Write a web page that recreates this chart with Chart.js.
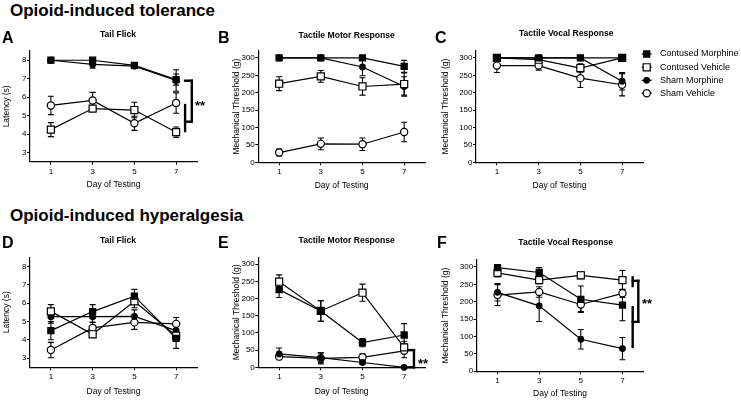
<!DOCTYPE html>
<html>
<head>
<meta charset="utf-8">
<script src="https://cdn.jsdelivr.net/npm/chart.js@4.4.1/dist/chart.umd.min.js"></script>
<style>
  body { margin:0; width:741px; height:400px; background:#fff; position:relative; overflow:hidden;
         font-family:'Liberation Sans', Arial, sans-serif; }
  canvas { position:absolute; }
  .t { position:absolute; white-space:nowrap; line-height:1; font-weight:bold; color:#000; }
</style>
</head>
<body>
<canvas id="cA"></canvas><canvas id="cB"></canvas><canvas id="cC"></canvas>
<canvas id="cD"></canvas><canvas id="cE"></canvas><canvas id="cF"></canvas>
<script>
// --- datos
const days = [1, 3, 5, 7];
const dayTicks = [1, 3, 5, 7];
const latencyTicks = [3, 4, 5, 6, 7, 8];
const thresholdTicks = [0, 50, 100, 150, 200, 250, 300];
const seriesNames = ['Contused Morphine', 'Contused Vehicle', 'Sham Morphine', 'Sham Vehicle'];

// A: tolerance, tail flick (s)
const aCM = [8.0, 8.0, 7.72, 6.95],  aCMe = [0.05, 0.08, 0.12, 0.3];
const aCV = [4.24, 5.38, 5.3, 4.1],  aCVe = [0.38, 0.15, 0.42, 0.28];
const aSM = [8.0, 7.77, 7.68, 6.9],  aSMe = [0.04, 0.2, 0.1, 0.58];
const aSV = [5.55, 5.82, 4.58, 5.68], aSVe = [0.5, 0.44, 0.38, 0.55];
// B: tolerance, tactile motor (g)
const bCM = [300, 300, 300, 276], bCMe = [0, 0, 0, 17];
const bCV = [226, 247, 218, 225], bCVe = [20, 17, 25, 32];
const bSM = [300, 300, 274, 218], bSMe = [0, 0, 25, 28];
const bSV = [28, 53, 52, 87],     bSVe = [10, 17, 18, 28];
// C: tolerance, tactile vocal (g)
const cCM = [300, 300, 300, 300], cCMe = [0, 0, 0, 0];
const cCV = [300, 295, 271, 300], cCVe = [0, 5, 12, 0];
const cSM = [300, 300, 300, 233], cSMe = [0, 0, 0, 25];
const cSV = [278, 278, 242, 223], cSVe = [20, 13, 27, 32];
// D: hyperalgesia, tail flick (s)
const dCM = [4.5, 5.54, 6.38, 4.08], dCMe = [0.5, 0.38, 0.37, 0.55];
const dCV = [5.55, 4.3, 6.1, 4.22],  dCVe = [0.37, 0.15, 0.35, 0.2];
const dSM = [5.26, 5.26, 5.28, 4.5], dSMe = [0.35, 0.3, 0.35, 0.3];
const dSV = [3.44, 4.65, 4.95, 4.87], dSVe = [0.42, 0.3, 0.38, 0.35];
// E: hyperalgesia, tactile motor (g)
const eCM = [226, 164, 72, 94], eCMe = [23, 30, 12, 33];
const eCV = [249, 164, 217, 58], eCVe = [20, 30, 25, 18];
const eSM = [39, 28, 14, 0],    eSMe = [17, 14, 5, 0];
const eSV = [31, 26, 29, 48],   eSVe = [8, 16, 10, 20];
// F: hyperalgesia, tactile vocal (g)
const fCM = [298, 284, 207, 190], fCMe = [5, 14, 38, 45];
const fCV = [283, 262, 276, 262], fCVe = [12, 10, 10, 28];
const fSM = [227, 188, 92, 65],   fSMe = [25, 45, 28, 32];
const fSV = [219, 228, 192, 224], fSVe = [30, 15, 20, 12];

// --- textos fijos
const FONT = "'Liberation Sans', Arial, sans-serif";
Chart.defaults.font.family = FONT;
Chart.defaults.color = '#000';

function addText(txt, x, baseline, size, center) {
  const d = document.createElement('div');
  d.className = 't';
  d.textContent = txt;
  d.style.fontSize = size + 'px';
  d.style.top = (baseline - 0.8465 * size) + 'px';
  d.style.left = x + 'px';
  if (center) d.style.transform = 'translateX(-50%)';
  document.body.appendChild(d);
}
addText('Opioid-induced tolerance', 10, 16.3, 17);
addText('Opioid-induced hyperalgesia', 10, 221.5, 17);
[['A', 2, 43.3], ['B', 218, 43.3], ['C', 435, 43.3], ['D', 2, 248.3], ['E', 218, 248.3], ['F', 437, 249]]
  .forEach(([l, x, y]) => addText(l, x, y, 16));
addText('Tail Flick', 118, 37.3, 8.6, true);
addText('Tactile Motor Response', 346.7, 38, 8.6, true);
addText('Tactile Vocal Response', 566.3, 36.5, 8.6, true);
addText('Tail Flick', 118, 243.7, 8.6, true);
addText('Tactile Motor Response', 346.7, 243.5, 8.6, true);
addText('Tactile Vocal Response', 565.7, 245, 8.6, true);

// --- plugins
const errorBars = {
  id: 'errorBars',
  beforeDatasetsDraw(chart) {
    const { ctx, scales: { x, y } } = chart;
    ctx.save();
    ctx.strokeStyle = '#000';
    ctx.lineWidth = 1.1;
    chart.data.datasets.forEach(ds => {
      ds.data.forEach((p, i) => {
        const e = ds.errorBars[i];
        if (!e) return;
        const px = x.getPixelForValue(p.x);
        const top = y.getPixelForValue(p.y + e), bot = y.getPixelForValue(p.y - e);
        ctx.beginPath();
        ctx.moveTo(px, top); ctx.lineTo(px, bot);
        ctx.moveTo(px - 3, top); ctx.lineTo(px + 3, top);
        ctx.moveTo(px - 3, bot); ctx.lineTo(px + 3, bot);
        ctx.stroke();
      });
    });
    ctx.restore();
  }
};

const brackets = {
  id: 'brackets',
  afterDatasetsDraw(chart, args, opts) {
    if (!opts.lines) return;
    const { ctx, scales: { x, y } } = chart;
    ctx.save();
    ctx.strokeStyle = '#000';
    ctx.lineWidth = 2.4;
    ctx.lineCap = 'square';
    opts.lines.forEach(([x1, y1, x2, y2]) => {
      ctx.beginPath();
      ctx.moveTo(x.getPixelForValue(x1), y.getPixelForValue(y1));
      ctx.lineTo(x.getPixelForValue(x2), y.getPixelForValue(y2));
      ctx.stroke();
    });
    ctx.fillStyle = '#000';
    ctx.font = 'bold 13px ' + FONT;
    ctx.textBaseline = 'alphabetic';
    ctx.fillText('**', x.getPixelForValue(opts.stars[0]), y.getPixelForValue(opts.stars[1]) + 7.5);
    ctx.restore();
  }
};

// marcador de cada serie
const styles = [
  { pointStyle: 'rect', pointRadius: 4.3, pointBackgroundColor: '#000' },
  { pointStyle: 'rect', pointRadius: 5, pointBackgroundColor: '#fff' },
  { pointStyle: 'circle', pointRadius: 2.8, pointBackgroundColor: '#000' },
  { pointStyle: 'circle', pointRadius: 3.6, pointBackgroundColor: '#fff' },
];

function drawMarker(ctx, st, x, y) {
  ctx.beginPath();
  if (st.pointStyle === 'rect') {
    const h = Math.SQRT1_2 * st.pointRadius;
    ctx.rect(x - h, y - h, 2 * h, 2 * h);
  } else {
    ctx.arc(x, y, st.pointRadius, 0, Math.PI * 2);
  }
  ctx.fillStyle = st.pointBackgroundColor;
  ctx.fill();
  ctx.stroke();
}

const keyLegend = {
  id: 'keyLegend',
  afterDraw(chart, args, opts) {
    if (!opts.x) return;
    const ctx = chart.ctx;
    ctx.save();
    ctx.strokeStyle = '#000';
    ctx.lineWidth = 1.2;
    ctx.font = '9px ' + FONT;
    ctx.textBaseline = 'middle';
    seriesNames.forEach((name, i) => {
      const y = opts.ys[i];
      ctx.beginPath();
      ctx.moveTo(opts.x - 5, y); ctx.lineTo(opts.x + 5, y);
      ctx.stroke();
      drawMarker(ctx, styles[i], opts.x, y);
      ctx.fillStyle = '#000';
      ctx.fillText(name, opts.textX, y);
    });
    ctx.restore();
  }
};

function makeSets(vals, errs) {
  return vals.map((v, k) => ({
    label: seriesNames[k],
    data: days.map((d, i) => ({ x: d, y: v[i] })),
    errorBars: errs[k],
    borderColor: '#000',
    borderWidth: 1.2,
    pointBorderColor: '#000',
    pointBorderWidth: 1.2,
    clip: false,
    tension: 0,
    ...styles[k],
  }));
}

// box = canvas, plot = area del grafico, tx = centro del titulo y, ty = centro del titulo x
function panel(id, box, plot, tx, ty, yTitle, yMin, yMax, yTicks, sets, extra = {}) {
  const cv = document.getElementById(id);
  cv.width = box.w; cv.height = box.h;
  cv.style.left = box.x + 'px'; cv.style.top = box.y + 'px';
  const lh = 8.5 * 1.2;
  const scaleLeft = tx - lh / 2;
  const scaleBottom = ty + lh / 2;
  const yW = plot.x0 - scaleLeft;
  const xH = scaleBottom - plot.y1;
  new Chart(cv, {
    type: 'line',
    data: { datasets: sets },
    options: {
      responsive: false, animation: false, devicePixelRatio: 1,
      layout: { padding: {
        left: scaleLeft - box.x, top: plot.y0 - box.y,
        right: box.x + box.w - plot.x1, bottom: box.y + box.h - scaleBottom } },
      plugins: {
        legend: { display: false }, tooltip: { enabled: false },
        brackets: extra.brackets || {}, keyLegend: extra.legend || {},
      },
      scales: {
        x: {
          type: 'linear', min: 0, max: 8,
          afterBuildTicks: s => { s.ticks = dayTicks.map(v => ({ value: v })); },
          afterFit: s => { s.height = xH; },
          grid: { drawOnChartArea: false, tickLength: 3, color: '#000', tickWidth: 1 },
          border: { color: '#000', width: 1.2 },
          ticks: { padding: 2, font: { size: 8 }, color: '#000', maxRotation: 0, autoSkip: false },
          title: { display: true, text: 'Day of Testing', font: { size: 8.5 }, padding: 0, color: '#000' },
        },
        y: {
          type: 'linear', min: yMin, max: yMax,
          afterBuildTicks: s => { s.ticks = yTicks.map(v => ({ value: v })); },
          afterFit: s => { s.width = yW; },
          grid: { drawOnChartArea: false, tickLength: 3, color: '#000', tickWidth: 1 },
          border: { color: '#000', width: 1.2 },
          ticks: { padding: 0.5, font: { size: 8 }, color: '#000', autoSkip: false },
          title: { display: true, text: yTitle, font: { size: 8.5 }, padding: 0, color: '#000' },
        },
      },
    },
    plugins: [errorBars, brackets, keyLegend],
  });
}

const LAT = 'Latency (s)', MT = 'Mechanical Threshold (g)';

panel('cA', { x: 0, y: 40, w: 215, h: 154 }, { x0: 30, y0: 51, x1: 197, y1: 161.7 }, 6.7, 185,
  LAT, 2.5, 8.5, latencyTicks,
  makeSets([aCM, aCV, aSM, aSV], [aCMe, aCVe, aSMe, aSVe]),
  { brackets: { lines: [[7.43, 6.89, 7.75, 6.89], [7.75, 6.89, 7.75, 4.67], [7.75, 4.67, 7.43, 4.67], [7.43, 5.57, 7.43, 4.16]],
                stars: [7.9, 5.71] } });

panel('cB', { x: 225, y: 40, w: 210, h: 154 }, { x0: 258.3, y0: 51, x1: 425, y1: 162.3 }, 237, 185.5,
  MT, 0, 320, thresholdTicks,
  makeSets([bCM, bCV, bSM, bSV], [bCMe, bCVe, bSMe, bSVe]));

panel('cC', { x: 440, y: 40, w: 301, h: 154 }, { x0: 476, y0: 51, x1: 643, y1: 162.3 }, 445.5, 185.5,
  MT, 0, 320, thresholdTicks,
  makeSets([cCM, cCV, cSM, cSV], [cCMe, cCVe, cSMe, cSVe]),
  { legend: { x: 646.7 - 440, textX: 660 - 440, ys: [54 - 40, 67.3 - 40, 80.3 - 40, 93.3 - 40] } });

panel('cD', { x: 0, y: 246, w: 215, h: 154 }, { x0: 30, y0: 257.3, x1: 197, y1: 367.3 }, 6.7, 391.7,
  LAT, 2.5, 8.5, latencyTicks,
  makeSets([dCM, dCV, dSM, dSV], [dCMe, dCVe, dSMe, dSVe]));

panel('cE', { x: 225, y: 246, w: 210, h: 154 }, { x0: 258.3, y0: 257.3, x1: 425, y1: 367.3 }, 237, 391.7,
  MT, 0, 320, thresholdTicks,
  makeSets([eCM, eCV, eSM, eSV], [eCMe, eCVe, eSMe, eSVe]),
  { brackets: { lines: [[7.2, 50, 7.47, 50], [7.47, 50, 7.47, 0], [7.47, 0, 7.2, 0]], stars: [7.66, 21] } });

panel('cF', { x: 440, y: 246, w: 301, h: 154 }, { x0: 476.7, y0: 260, x1: 643.3, y1: 371.2 }, 445.5, 394,
  MT, 0, 320, thresholdTicks,
  makeSets([fCM, fCV, fSM, fSV], [fCMe, fCVe, fSMe, fSVe]),
  { brackets: { lines: [[7.49, 260, 7.76, 260], [7.76, 260, 7.76, 142], [7.76, 142, 7.49, 142], [7.49, 270, 7.49, 245], [7.49, 184, 7.49, 70]],
                stars: [7.94, 204] } });
</script>
</body>
</html>
